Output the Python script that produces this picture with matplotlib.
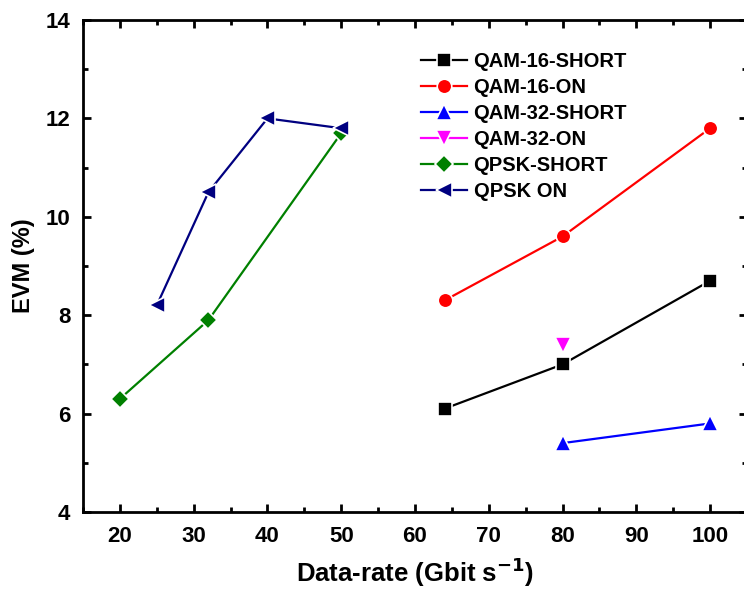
import matplotlib
matplotlib.use('Agg')
import matplotlib.pyplot as plt
from matplotlib.ticker import MultipleLocator

plt.rcParams['font.family'] = ['Liberation Sans', 'DejaVu Sans']
plt.rcParams['font.weight'] = 'bold'
plt.rcParams['mathtext.default'] = 'bf'

# data
qam16_short_x = [64, 80, 100]
qam16_short_y = [6.1, 7.0, 8.7]
qam16_on_x = [64, 80, 100]
qam16_on_y = [8.3, 9.6, 11.8]
qam32_short_x = [80, 100]
qam32_short_y = [5.4, 5.8]
qam32_on_x = [80]
qam32_on_y = [7.4]
qpsk_short_x = [20, 32, 50]
qpsk_short_y = [6.3, 7.9, 11.7]
qpsk_on_x = [25, 32, 40, 50]
qpsk_on_y = [8.2, 10.5, 12.0, 11.8]

fig = plt.figure(figsize=(7.44, 5.92), dpi=100)
# axes run past the right edge, like the cropped original
ax = fig.add_axes([83/744, 80/592, 664/744, 492/592])

# white marker edge gives the little gap between line and marker
kw = dict(lw=1.6, mec='white', mew=1.2)
ax.plot(qam16_short_x, qam16_short_y, '-s', color='black', label='QAM-16-SHORT', ms=9.5, **kw)
ax.plot(qam16_on_x, qam16_on_y, '-o', color='red', label='QAM-16-ON', ms=10.5, **kw)
ax.plot(qam32_short_x, qam32_short_y, '-^', color='blue', label='QAM-32-SHORT', ms=11, **kw)
ax.plot(qam32_on_x, qam32_on_y, '-v', color='magenta', label='QAM-32-ON', ms=11, **kw)
ax.plot(qpsk_short_x, qpsk_short_y, '-D', color='green', label='QPSK-SHORT', ms=9.5, **kw)
ax.plot(qpsk_on_x, qpsk_on_y, '-<', color='navy', label='QPSK ON', ms=11, **kw)

ax.set_xlim(15, 105)
ax.set_ylim(4, 14)
ax.xaxis.set_major_locator(MultipleLocator(10))
ax.xaxis.set_minor_locator(MultipleLocator(5))
ax.yaxis.set_major_locator(MultipleLocator(2))
ax.yaxis.set_minor_locator(MultipleLocator(1))
ax.set_xticks(range(20, 101, 10))

for s in ax.spines.values():
    s.set_linewidth(2)
ax.tick_params(which='both', direction='in', top=True, right=True, width=2)
ax.tick_params(which='major', length=6, labelsize=16)
ax.tick_params(axis='x', which='major', pad=10)
ax.tick_params(axis='y', which='major', pad=9)
ax.tick_params(which='minor', length=3.5)
for lab in ax.get_xticklabels() + ax.get_yticklabels():
    lab.set_fontweight('bold')

ax.set_xlabel('Data-rate (Gbit s$^{\\mathbf{-1}}$)', fontsize=18.5, fontweight='bold', labelpad=6)
ax.set_ylabel('EVM (%)', fontsize=17, fontweight='bold', labelpad=8)

leg = ax.legend(loc='upper left', bbox_to_anchor=(0.482, 0.971), frameon=False,
                prop={'size': 14.5, 'weight': 'bold'}, handlelength=2.3,
                handletextpad=0.3, labelspacing=0.34)

fig.savefig('out.png', dpi=100)
